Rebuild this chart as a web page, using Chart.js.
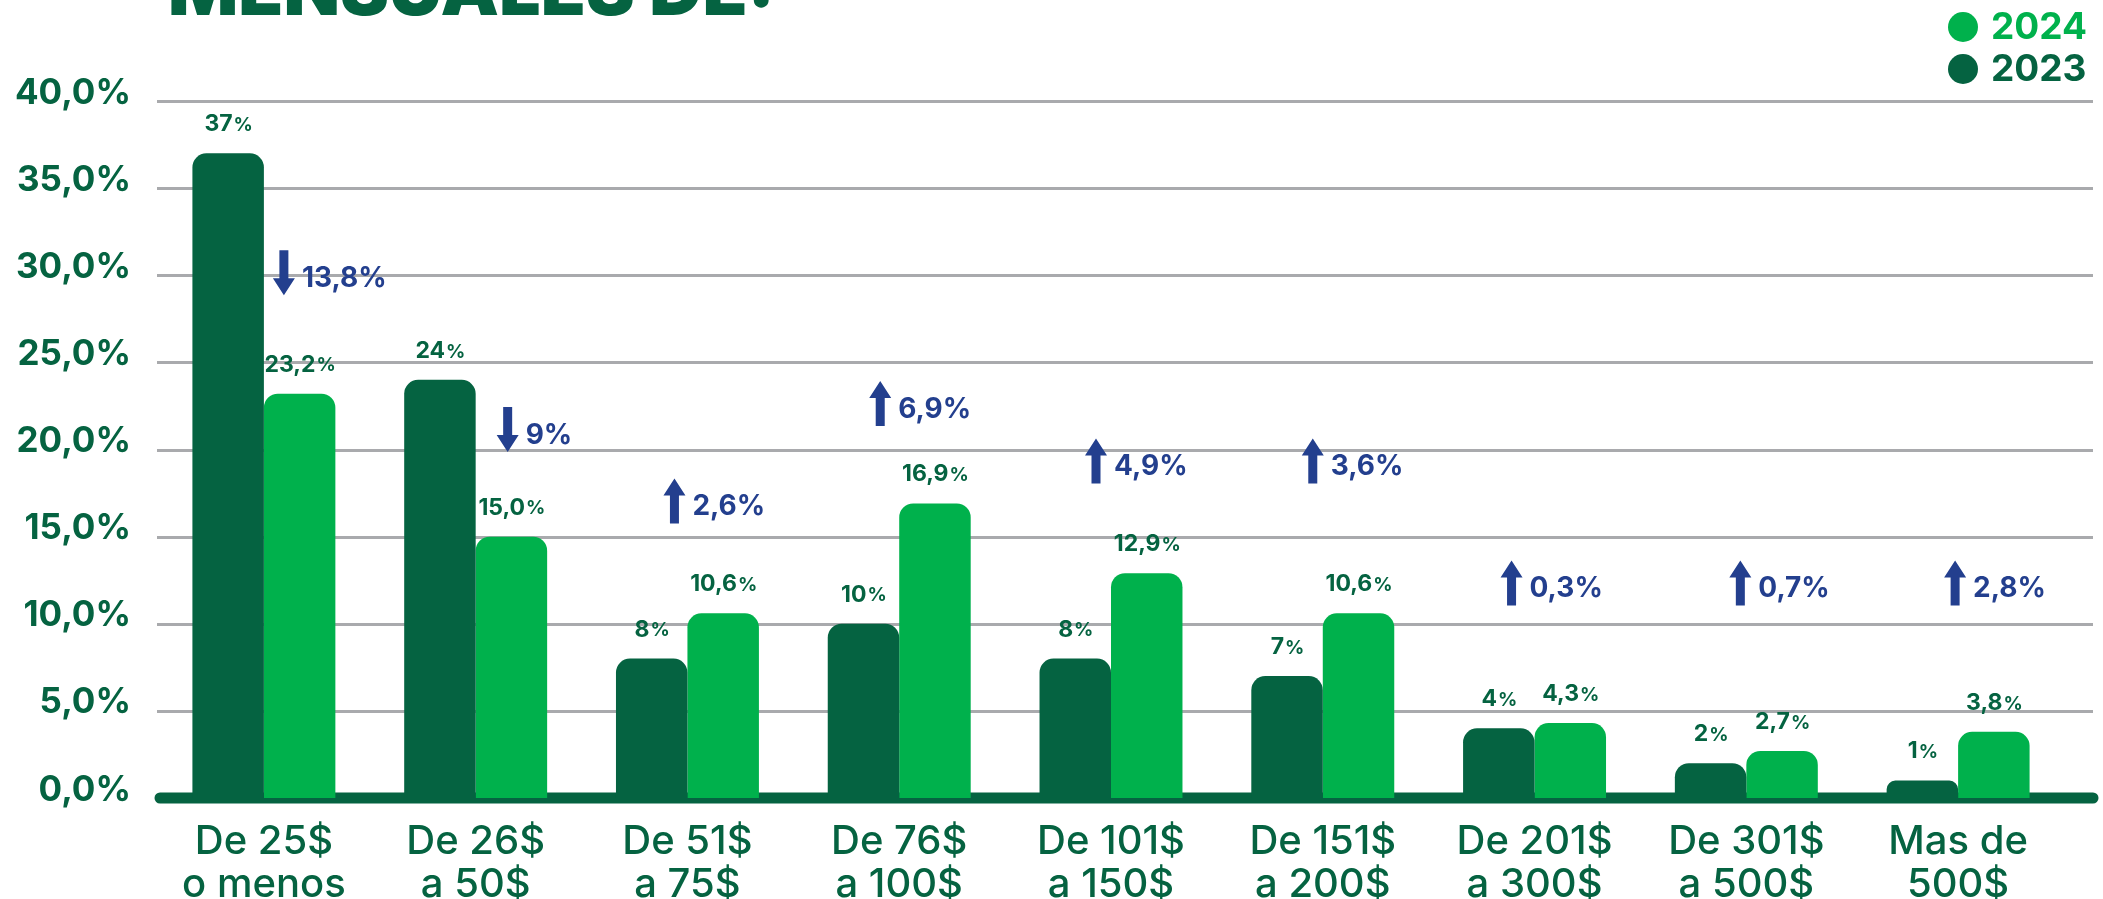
<!DOCTYPE html>
<html>
<head>
<meta charset="utf-8">
<script src="https://cdn.jsdelivr.net/npm/chart.js@4.4.1/dist/chart.umd.min.js"></script>
<style>
  html, body { margin: 0; padding: 0; background: #fff; }
  #wrap { width: 2103px; height: 899px; }
</style>
</head>
<body>
<div id="wrap"><canvas id="gastoChart" width="2103" height="899"></canvas></div>
<script>
// --- Data ---
const categories = [
    ['De 25$', 'o menos'], ['De 26$', 'a 50$'], ['De 51$', 'a 75$'],
    ['De 76$', 'a 100$'], ['De 101$', 'a 150$'], ['De 151$', 'a 200$'],
    ['De 201$', 'a 300$'], ['De 301$', 'a 500$'], ['Mas de', '500$']
];
const values2023 = [37, 24, 8, 10, 8, 7, 4, 2, 1];
const values2024 = [23.2, 15.0, 10.6, 16.9, 12.9, 10.6, 4.3, 2.7, 3.8];
const changes = [-13.8, -9, 2.6, 6.9, 4.9, 3.6, 0.3, 0.7, 2.8];
const yTicks = [0, 5, 10, 15, 20, 25, 30, 35, 40];
const seriesNames = ['2023', '2024'];

// --- Styles ---
const DARK = '#056341';
const LIGHT = '#00B14C';
const BLUE = '#233F8E';
const GRID = '#A9AAAD';
const FONT = 'Inter';

// where the change notes sit: x shift from the category centre, and the level (%) of the text
const noteShift = [20, 32, -13, -19, -15, -10, -23, -6, -3];
const noteLevel = [29.8, 20.8, 16.7, 22.3, 19, 19, 12, 12, 12];

const comma = v => String(v).replace('.', ',');

function drawArrow(ctx, x, yc, up) {
    const h = 45, headH = 17, headW = 11, shaft = 4.5;
    const top = yc - h / 2, bottom = yc + h / 2;
    ctx.beginPath();
    if (up) {
        ctx.moveTo(x, top);
        ctx.lineTo(x + headW, top + headH);
        ctx.lineTo(x + shaft, top + headH);
        ctx.lineTo(x + shaft, bottom);
        ctx.lineTo(x - shaft, bottom);
        ctx.lineTo(x - shaft, top + headH);
        ctx.lineTo(x - headW, top + headH);
    } else {
        ctx.moveTo(x, bottom);
        ctx.lineTo(x + headW, bottom - headH);
        ctx.lineTo(x + shaft, bottom - headH);
        ctx.lineTo(x + shaft, top);
        ctx.lineTo(x - shaft, top);
        ctx.lineTo(x - shaft, bottom - headH);
        ctx.lineTo(x - headW, bottom - headH);
    }
    ctx.closePath();
    ctx.fill();
}

const extras = {
    id: 'extras',
    beforeDatasetsDraw(chart) {
        const { ctx, chartArea, scales: { y } } = chart;
        ctx.save();
        // grid lines run a bit past the plot on the right
        ctx.strokeStyle = GRID;
        ctx.lineWidth = 3;
        yTicks.forEach(t => {
            if (t === 0) return;
            const py = Math.round(y.getPixelForValue(t)) + 0.5;
            ctx.beginPath();
            ctx.moveTo(chartArea.left - 1, py);
            ctx.lineTo(2093, py);
            ctx.stroke();
        });
        // thick base line with round ends
        const by = y.getPixelForValue(0);
        ctx.strokeStyle = DARK;
        ctx.lineWidth = 11;
        ctx.lineCap = 'round';
        ctx.beginPath();
        ctx.moveTo(chartArea.left + 2, by);
        ctx.lineTo(2093, by);
        ctx.stroke();
        ctx.restore();
    },
    afterDatasetsDraw(chart) {
        const { ctx, scales: { x, y } } = chart;
        ctx.save();
        ctx.fillStyle = DARK;
        ctx.textBaseline = 'middle';
        ctx.textAlign = 'left';

        // value labels over the bars
        chart.data.datasets.forEach((ds, i) => {
            chart.getDatasetMeta(i).data.forEach((bar, j) => {
                const v = ds.data[j];
                const num = i === 0 ? comma(v) : comma(v.toFixed(1));
                ctx.font = `700 23px ${FONT}`;
                const w1 = ctx.measureText(num).width;
                ctx.font = `700 19px ${FONT}`;
                const w2 = ctx.measureText('%').width;
                const sx = bar.x - (w1 + w2) / 2;
                const ty = bar.y - 29;
                ctx.font = `700 23px ${FONT}`;
                ctx.fillText(num, sx, ty);
                ctx.font = `700 19px ${FONT}`;
                ctx.fillText('%', sx + w1 + 1, ty + 1);
            });
        });

        // change notes with arrows
        ctx.fillStyle = BLUE;
        changes.forEach((c, j) => {
            const ax = x.getPixelForValue(j) + noteShift[j];
            const ty = y.getPixelForValue(noteLevel[j]);
            drawArrow(ctx, ax, ty - 6, c > 0);
            ctx.font = `700 28px ${FONT}`;
            ctx.fillText(comma(Math.abs(c)) + '%', ax + 18, ty);
        });
        ctx.restore();
    },
    afterDraw(chart) {
        const { ctx } = chart;
        ctx.save();
        // title, mostly cut off at the top
        ctx.fillStyle = DARK;
        ctx.font = `900 74px ${FONT}`;
        ctx.textBaseline = 'alphabetic';
        ctx.textAlign = 'left';
        ctx.fillText('MENSUALES DE:', 168, 15, 607);

        // legend, top right
        const items = [
            { text: seriesNames[1], color: LIGHT, y: 27 },
            { text: seriesNames[0], color: DARK, y: 69 }
        ];
        ctx.font = `700 37px ${FONT}`;
        ctx.textBaseline = 'middle';
        items.forEach(it => {
            ctx.fillStyle = it.color;
            ctx.beginPath();
            ctx.arc(1963, it.y, 15, 0, Math.PI * 2);
            ctx.fill();
            ctx.fillText(it.text, 1991, it.y + 1);
        });
        ctx.restore();
    }
};

function draw() {
    new Chart(document.getElementById('gastoChart'), {
        type: 'bar',
        data: {
            labels: categories,
            datasets: [
                {
                    label: seriesNames[0],
                    data: values2023,
                    backgroundColor: DARK,
                    borderRadius: { topLeft: 14, topRight: 14, bottomLeft: 0, bottomRight: 0 },
                    borderSkipped: false,
                    categoryPercentage: 0.675,
                    barPercentage: 1.0
                },
                {
                    label: seriesNames[1],
                    data: values2024,
                    backgroundColor: LIGHT,
                    borderRadius: { topLeft: 14, topRight: 14, bottomLeft: 0, bottomRight: 0 },
                    borderSkipped: false,
                    categoryPercentage: 0.675,
                    barPercentage: 1.0
                }
            ]
        },
        options: {
            responsive: false,
            animation: false,
            devicePixelRatio: 1,
            layout: { padding: { top: 101, right: 39, bottom: 0, left: 0 } },
            plugins: {
                legend: { display: false },
                tooltip: { enabled: false }
            },
            scales: {
                x: {
                    grid: { display: false, drawTicks: false },
                    border: { display: false },
                    ticks: {
                        color: DARK,
                        font: { family: FONT, size: 40, weight: '500', lineHeight: 1.08 },
                        padding: 22,
                        maxRotation: 0,
                        autoSkip: false
                    },
                    afterFit: s => { s.height = 101; }
                },
                y: {
                    min: yTicks[0],
                    max: yTicks[yTicks.length - 1],
                    grid: { display: false, drawTicks: false },
                    border: { display: false },
                    ticks: {
                        stepSize: yTicks[1] - yTicks[0],
                        padding: 27,
                        labelOffset: -8,
                        color: DARK,
                        font: { family: FONT, size: 35, weight: '700' },
                        callback: v => v.toFixed(1).replace('.', ',') + '%'
                    },
                    afterFit: s => { s.width = 158; }
                }
            }
        },
        plugins: [extras]
    });
}

Promise.all([
    document.fonts.load(`700 36px ${FONT}`),
    document.fonts.load(`500 40px ${FONT}`),
    document.fonts.load(`900 72px ${FONT}`)
]).then(draw, draw);
</script>
</body>
</html>
